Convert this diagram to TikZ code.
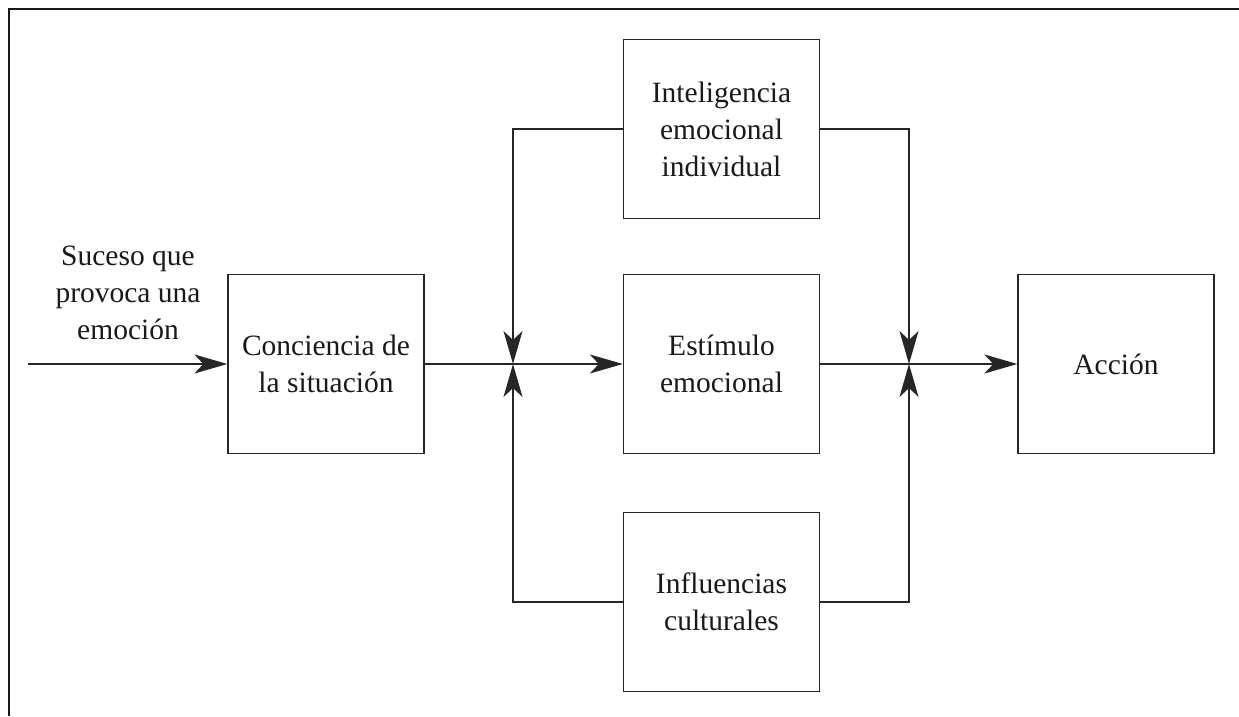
\documentclass[tikz,border=0pt]{standalone}
\usepackage{fontspec}
\setmainfont{Liberation Serif}
\usetikzlibrary{arrows.meta}
\begin{document}
\begin{tikzpicture}[x=1pt,y=1pt,
  ink/.style={draw=black!85, line width=1.3pt},
  block/.style={ink, rectangle, minimum width=196pt, minimum height=179pt,
    inner sep=0pt, align=center, text=black!90,
    font=\fontsize{29.5}{37}\selectfont},
  label/.style={align=center, text=black!90, font=\fontsize{29.5}{37}\selectfont},
  flow/.style={ink, -{Stealth[length=33pt, width=19pt, inset=9pt]}},
  link/.style={ink}]
\useasboundingbox (0,0) rectangle (1239,716);

% frame: top and left edges
\draw[line width=2.6pt, draw=black!90] (1239,707) -- (9,707) -- (9,0);

% blocks
\node[block] (conc)  at (326,352)   {Conciencia de\\la situación};
\node[block] (estim) at (721.5,352) {Estímulo\\emocional};
\node[block] (accion) at (1116,352) {Acción};
\node[block] (intel) at (721.5,587) {Inteligencia\\emocional\\individual};
\node[block] (influ) at (721.5,114) {Influencias\\culturales};

% input label and start point
\node[label] (suceso) at (128,423) {Suceso que\\provoca una\\emoción};
\coordinate (start) at (28,352);

% junctions
\coordinate (jl) at (513,352);
\coordinate (jr) at (909,352);

% main flow
\draw[flow] (start) -- (conc.west);
\draw[link] (conc.east) -- (jl);
\draw[flow] (jl) -- (estim.west);
\draw[link] (estim.east) -- (jr);
\draw[flow] (jr) -- (accion.west);

% moderating influences
\draw[flow] (intel.west) -| (jl);
\draw[flow] (influ.west) -| (jl);
\draw[flow] (intel.east) -| (jr);
\draw[flow] (influ.east) -| (jr);
\end{tikzpicture}
\end{document}
